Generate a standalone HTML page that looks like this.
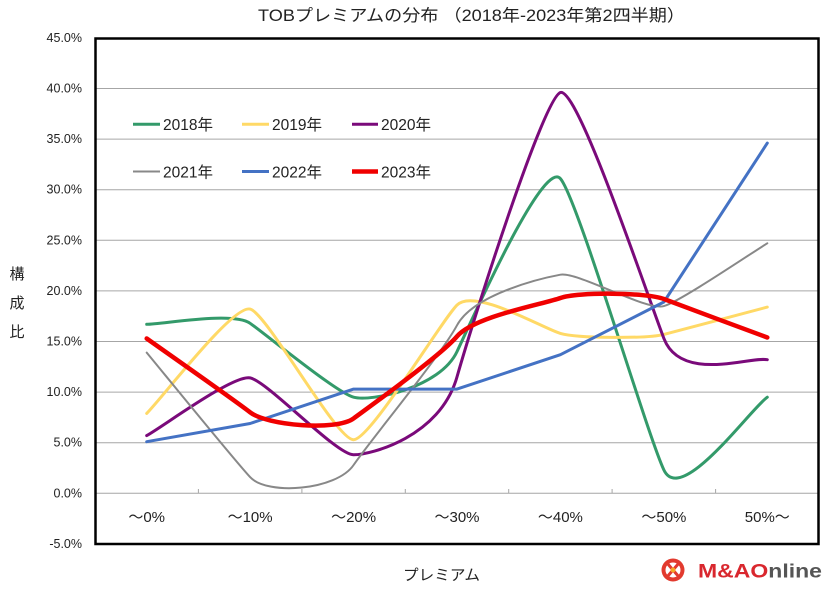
<!DOCTYPE html>
<html>
<head>
<meta charset="utf-8">
<style>
  html,body{margin:0;padding:0;background:#fff;}
  svg{display:block;}
  text{font-family:"Liberation Sans","Noto Sans CJK JP",sans-serif;fill:#222;}
</style>
</head>
<body>
<svg width="838" height="593" viewBox="0 0 838 593" xmlns="http://www.w3.org/2000/svg">
  <rect x="0" y="0" width="838" height="593" fill="#fff"/>

  <!-- Title -->
  <text x="258" y="21" font-size="16.5" textLength="427" lengthAdjust="spacingAndGlyphs">TOBプレミアムの分布 （2018年-2023年第2四半期）</text>

  <!-- gridlines -->
  <g stroke="#a6a6a6" stroke-width="1">
    <line x1="95" y1="88.5" x2="819" y2="88.5"/>
    <line x1="95" y1="139.1" x2="819" y2="139.1"/>
    <line x1="95" y1="189.7" x2="819" y2="189.7"/>
    <line x1="95" y1="240.3" x2="819" y2="240.3"/>
    <line x1="95" y1="290.9" x2="819" y2="290.9"/>
    <line x1="95" y1="341.5" x2="819" y2="341.5"/>
    <line x1="95" y1="392.1" x2="819" y2="392.1"/>
    <line x1="95" y1="442.7" x2="819" y2="442.7"/>
    <line x1="95" y1="493.3" x2="819" y2="493.3"/>
    <line x1="198.4" y1="489" x2="198.4" y2="493.3"/>
    <line x1="301.9" y1="489" x2="301.9" y2="493.3"/>
    <line x1="405.3" y1="489" x2="405.3" y2="493.3"/>
    <line x1="508.7" y1="489" x2="508.7" y2="493.3"/>
    <line x1="612.1" y1="489" x2="612.1" y2="493.3"/>
    <line x1="715.6" y1="489" x2="715.6" y2="493.3"/>
  </g>

  <!-- plot border -->
  <rect x="95.5" y="38.5" width="723" height="505.5" fill="none" stroke="#000" stroke-width="2.5"/>

  <!-- y labels -->
  <g font-size="12.5" text-anchor="end">
    <text x="82" y="42">45.0%</text>
    <text x="82" y="92.5">40.0%</text>
    <text x="82" y="143.1">35.0%</text>
    <text x="82" y="193.7">30.0%</text>
    <text x="82" y="244.3">25.0%</text>
    <text x="82" y="294.9">20.0%</text>
    <text x="82" y="345.5">15.0%</text>
    <text x="82" y="396.1">10.0%</text>
    <text x="82" y="446.7">5.0%</text>
    <text x="82" y="497.3">0.0%</text>
    <text x="82" y="548">-5.0%</text>
  </g>

  <!-- x labels -->
  <g font-size="15" text-anchor="middle">
    <text x="146.7" y="522">～0%</text>
    <text x="250.1" y="522">～10%</text>
    <text x="353.6" y="522">～20%</text>
    <text x="457.0" y="522">～30%</text>
    <text x="560.4" y="522">～40%</text>
    <text x="663.9" y="522">～50%</text>
    <text x="767.3" y="522">50%～</text>
  </g>

  <!-- axis titles -->
  <g font-size="15" text-anchor="middle">
    <text x="17" y="279">構</text>
    <text x="17" y="308">成</text>
    <text x="17" y="337">比</text>
  </g>
  <text x="403" y="580" font-size="15" textLength="77" lengthAdjust="spacingAndGlyphs">プレミアム</text>

  <!-- series -->
  <g fill="none" stroke-linecap="round" stroke-linejoin="round">
    <path stroke="#339a6a" stroke-width="3" d="M146.7,324.3 C163.9,324.1 232.9,311.2 250.1,323.3 C267.3,335.5 336.4,392.5 353.6,397.2 C370.8,401.9 439.8,388.0 457.0,351.6 C474.2,315.2 543.2,158.9 560.4,178.6 C577.6,198.3 646.7,433.6 663.9,470.0 C681.1,506.4 750.1,409.3 767.3,397.2"/>
    <path stroke="#ffd966" stroke-width="3" d="M146.7,413.4 C163.9,396.0 232.9,304.7 250.1,309.1 C267.3,313.5 336.4,440.4 353.6,439.7 C370.8,439.0 439.8,322.8 457.0,305.1 C474.2,287.4 543.2,328.5 560.4,333.4 C577.6,338.3 646.7,338.8 663.9,334.4 C681.1,330.0 750.1,311.7 767.3,307.1"/>
    <path stroke="#7a0a7a" stroke-width="3" d="M146.7,435.6 C163.9,426.0 232.9,374.7 250.1,377.9 C267.3,381.1 336.4,455.0 353.6,454.8 C370.8,454.6 439.8,437.3 457.0,376.9 C474.2,316.5 543.2,98.9 560.4,92.5 C577.6,86.1 646.7,294.0 663.9,338.5 C681.1,383.0 750.1,356.2 767.3,359.7"/>
    <path stroke="#888888" stroke-width="2" d="M146.7,352.6 C163.9,373.4 232.9,458.4 250.1,477.1 C267.3,495.8 336.4,490.3 353.6,465.0 C370.8,439.7 439.8,357.0 457.0,325.3 C474.2,293.6 543.2,277.9 560.4,274.7 C577.6,271.5 646.7,311.3 663.9,306.1 C681.1,300.9 750.1,253.8 767.3,243.3"/>
    <polyline stroke="#4472c4" stroke-width="3" points="146.7,441.7 250.1,423.5 353.6,389.1 457.0,389.1 560.4,354.7 663.9,302.0 767.3,143.1"/>
    <path stroke="#f00000" stroke-width="4.5" d="M146.7,338.5 C163.9,350.8 232.9,399.0 250.1,412.3 C267.3,425.6 336.4,431.1 353.6,418.4 C370.8,405.8 439.8,356.5 457.0,336.4 C474.2,316.3 543.2,304.2 560.4,298.0 C577.6,291.8 646.7,292.4 663.9,299.0 C681.1,305.6 750.1,331.1 767.3,337.5"/>
  </g>

  <!-- legend -->
  <g stroke-linecap="butt">
    <line x1="133" y1="124.3" x2="160" y2="124.3" stroke="#339a6a" stroke-width="3"/>
    <line x1="242" y1="124.3" x2="269" y2="124.3" stroke="#ffd966" stroke-width="3"/>
    <line x1="352" y1="124.3" x2="378" y2="124.3" stroke="#7a0a7a" stroke-width="3"/>
    <line x1="133" y1="171.5" x2="160" y2="171.5" stroke="#888888" stroke-width="2"/>
    <line x1="242" y1="171.5" x2="269" y2="171.5" stroke="#4472c4" stroke-width="3"/>
    <line x1="352" y1="171.5" x2="378" y2="171.5" stroke="#f00000" stroke-width="4.5"/>
  </g>
  <g font-size="15.5">
    <text x="163" y="130" textLength="50" lengthAdjust="spacingAndGlyphs">2018年</text>
    <text x="272" y="130" textLength="50" lengthAdjust="spacingAndGlyphs">2019年</text>
    <text x="381" y="130" textLength="50" lengthAdjust="spacingAndGlyphs">2020年</text>
    <text x="163" y="177.5" textLength="50" lengthAdjust="spacingAndGlyphs">2021年</text>
    <text x="272" y="177.5" textLength="50" lengthAdjust="spacingAndGlyphs">2022年</text>
    <text x="381" y="177.5" textLength="50" lengthAdjust="spacingAndGlyphs">2023年</text>
  </g>

  <!-- logo -->
  <g>
    <circle cx="673" cy="570" r="11.5" fill="#e23a2e"/>
    <circle cx="673" cy="570" r="7.5" fill="#fff"/>
    <path d="M667,563 L679,577 M679,563 L667,577" stroke="#e23a2e" stroke-width="3"/>
    <circle cx="673" cy="570" r="2.5" fill="#f5a623"/>
  </g>
  <text x="698" y="577.5" font-size="19.5" font-weight="bold" textLength="124" lengthAdjust="spacingAndGlyphs"><tspan fill="#d9272e">M&amp;AO</tspan><tspan fill="#555555">nline</tspan></text>
</svg>
</body>
</html>
